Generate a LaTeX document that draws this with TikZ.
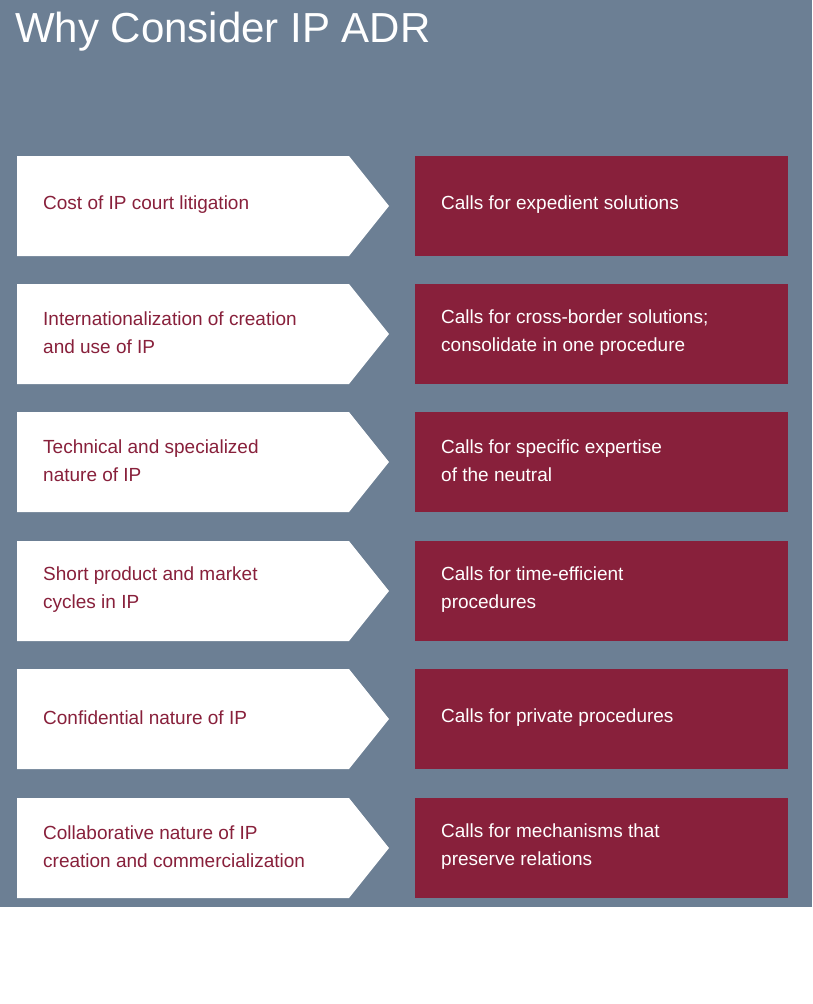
\documentclass[tikz,border=0pt]{standalone}
\usepackage{fontspec}
\setmainfont{Liberation Sans}
\definecolor{slate}{HTML}{6C7F94}
\definecolor{wine}{HTML}{88203B}
\begin{document}
\begin{tikzpicture}[x=1pt,y=-1pt,
  lefttxt/.style={anchor=west,align=left,text=wine,font=\fontsize{19}{28}\selectfont,inner sep=0},
  righttxt/.style={anchor=west,align=left,text=white,font=\fontsize{19}{28}\selectfont,inner sep=0}]
\useasboundingbox (0,0) rectangle (812,1004);
\fill[white] (0,0) rectangle (812,1004);
\fill[slate] (0,0) rectangle (812,907);
\node[anchor=west,text=white,font=\fontsize{42}{48}\selectfont,inner sep=0] (title) at (15,32) {Why Consider IP ADR};
\foreach \y/\a/\b [count=\i] in {
 156/{Cost of IP court litigation}/{Calls for expedient solutions},
 284/{Internationalization of creation\\and use of IP}/{Calls for cross-border solutions;\\consolidate in one procedure},
 412/{Technical and specialized\\nature of IP}/{Calls for specific expertise\\of the neutral},
 541/{Short product and market\\cycles in IP}/{Calls for time-efficient\\procedures},
 669/{Confidential nature of IP}/{Calls for private procedures},
 798/{Collaborative nature of IP\\creation and commercialization}/{Calls for mechanisms that\\preserve relations}}{
 \fill[white] (17,\y) -- (349,\y) -- (389,\y+50) -- (349,\y+100) -- (17,\y+100) -- cycle;
 \fill[wine] (415,\y) rectangle (788,\y+100);
 \node[lefttxt] (l\i) at (43,\y+49) {\a};
 \node[righttxt] (r\i) at (441,\y+49) {\b};
}
\end{tikzpicture}
\end{document}
